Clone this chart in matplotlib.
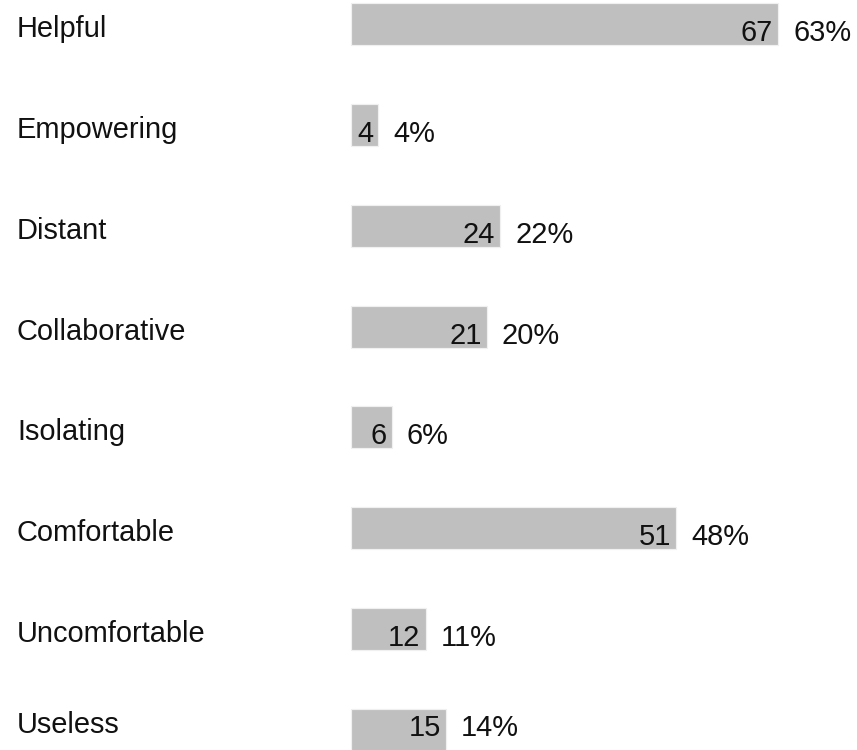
import numpy as np
import matplotlib
matplotlib.use('Agg')
import matplotlib.pyplot as plt

categories = ['Helpful', 'Empowering', 'Distant', 'Collaborative',
              'Isolating', 'Comfortable', 'Uncomfortable', 'Useless']
counts = [67, 4, 24, 21, 6, 51, 12, 15]
percents = [63, 4, 22, 20, 6, 48, 11, 14]

W, H = 857, 750
dpi = 72  # 1 point == 1 pixel
row = 100.85       # px between rows
first = 24.0       # px, centre of first bar
x0 = 351.0         # px, bar start
scale = 6.78       # px per percent

plt.rcParams['font.family'] = ['Liberation Sans', 'DejaVu Sans']
fig = plt.figure(figsize=(W / dpi, H / dpi), dpi=dpi)
ax = fig.add_axes([0, 0, 1, 1])
ax.set_xlim(-x0 / scale, (W - x0) / scale)
ymax = (H - first) / row
ax.set_ylim(ymax, -first / row)
ax.axis('off')

y = np.arange(len(categories))
ax.barh(y, percents, height=42 / row, color='#bfbfbf',
        edgecolor='#f0f0f0', linewidth=1.2)

fs = 29
for i, (cat, c, p) in enumerate(zip(categories, counts, percents)):
    # keep text inside canvas for the last row
    val_y = min(i + 17 / row, ymax - 14 / row)
    lab_y = min(i + 13 / row, ymax - 17 / row)
    ax.text(17 / scale - x0 / scale, lab_y, cat, fontsize=fs,
            ha='left', va='baseline', color='#111111')
    ax.annotate(str(c), (p, val_y), xytext=(-5, 0), textcoords='offset points',
                fontsize=fs, ha='right', va='baseline', color='#111111')
    ax.annotate(f'{p}%', (p, val_y), xytext=(15, 0), textcoords='offset points',
                fontsize=fs, ha='left', va='baseline', color='#111111')

fig.savefig('out.png', dpi=dpi)
